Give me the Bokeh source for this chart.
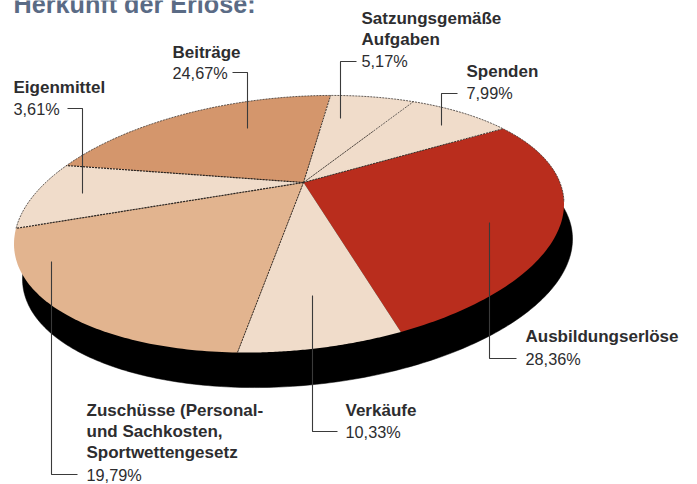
import numpy as np
from bokeh.plotting import figure
from bokeh.models import Range1d, ColumnDataSource
from bokeh.core.properties import value
from bokeh.embed import file_html
from bokeh.resources import INLINE

W, H = 697, 484

# Slices, clockwise from the Ausbildung / Spenden edge
categories = ["Ausbildungserlöse", "Verkäufe", "Zuschüsse", "Eigenmittel",
              "Beiträge", "Satzungsgemäße Aufgaben", "Spenden"]
shares = ["28,36%", "10,33%", "19,79%", "3,61%", "24,67%", "5,17%", "7,99%"]
# Sweep of each slice as actually drawn in the picture (degrees)
drawn_sweep = [104.9, 34.8, 86.2, 29.0, 62.7, 18.2, 24.2]
slice_colors = ["#B92D1D", "#F0DCCA", "#E2B48F", "#F0DCCA", "#D4966C", "#F0DCCA", "#F0DCCA"]
START = 38.9

CX, CY, RX, SKEW, RY = 288.5, 223.5, 275.0, -20.0, 127.0
AX, AY = 303.0, 182.0
DROP_X, DROP_Y = 8.5, 35.0


def rim(deg):
    s = np.radians(deg)
    return CX + RX * np.cos(s), CY + SKEW * np.cos(s) - RY * np.sin(s)


p = figure(width=W, height=H, output_backend="svg", toolbar_location=None,
           x_range=Range1d(0, W), y_range=Range1d(H, 0), min_border=0,
           margin=(0, 0, 0, 0), outline_line_color=None, background_fill_color="white")
p.axis.visible = False
p.grid.visible = False

# Black slab under the disc
sx, sy = rim(np.linspace(0, 360, 361))
p.patch(sx + DROP_X, sy + DROP_Y, fill_color="#000000", line_color="#000000", line_width=0.5)

edges = START - np.concatenate([[0], np.cumsum(drawn_sweep)])
xs, ys = [], []
for a, b in zip(edges[:-1], edges[1:]):
    rx, ry = rim(np.linspace(a, b, 80))
    xs.append(np.concatenate([[AX], rx]))
    ys.append(np.concatenate([[AY], ry]))
p.patches("xs", "ys", source=ColumnDataSource(dict(xs=xs, ys=ys, fill=slice_colors)),
          fill_color="fill", line_color=None)

# Dashed separators and upper rim
for i, w in zip([2, 3, 4, 5, 6, 7], [0.9, 1.2, 1.2, 0.9, 0.7, 0.9]):
    ex, ey = rim(edges[i])
    p.line([AX, ex], [AY, ey], line_color="#2A2420", line_width=w, line_dash="2 1")
tx, ty = rim(np.linspace(edges[3] + 360, START - 38, 240))
p.line(tx, ty, line_color="#3A3430", line_width=0.8, line_dash="2 1")

# Leader lines
leaders = [
    ([232, 247, 247], [72, 72, 128]),
    ([67, 82, 82], [108, 108, 193]),
    ([356, 340, 340], [61, 61, 118]),
    ([457, 441, 441], [93, 93, 125]),
    ([489, 489, 516], [222, 358, 358]),
    ([312, 312, 337], [295, 431, 431]),
    ([51, 51, 77], [261, 474, 474]),
]
for lx, ly in leaders:
    p.line(lx, ly, line_color="#3A3A3A", line_width=1.1)

FONT = value("Liberation Sans")
TXT = "#2D2D2F"
bold = [
    (172, 52, "Beiträge"), (13, 87, "Eigenmittel"), (361, 18, "Satzungsgemäße"),
    (361, 39, "Aufgaben"), (466, 71, "Spenden"), (525, 336, "Ausbildungserlöse"),
    (345, 410, "Verkäufe"), (86, 410, "Zuschüsse (Personal-"), (86, 431, "und Sachkosten,"),
    (86, 452, "Sportwettengesetz"),
]
plain = [
    (172, 72, shares[4]), (13, 108, shares[3]), (361, 60, shares[5]), (466, 92, shares[6]),
    (525, 358, shares[0]), (345, 431, shares[1]), (86, 474, shares[2]),
]
p.text([b[0] for b in bold], [b[1] for b in bold], text=[b[2] for b in bold],
        text_font=FONT, text_font_style="bold", text_font_size="17px", text_color=TXT,
        text_baseline="middle", text_align="left")
p.text([b[0] for b in plain], [b[1] for b in plain], text=[b[2] for b in plain],
        text_font=FONT, text_font_size="16.3px", text_color=TXT,
        text_baseline="middle", text_align="left")
p.text([13], [3], text=["Herkunft der Erlöse:"], text_font=FONT, text_font_style="bold",
       text_font_size="25.2px", text_color="#5A6B85", text_baseline="middle", text_align="left")

open("out.html", "w").write(file_html(p, INLINE))
